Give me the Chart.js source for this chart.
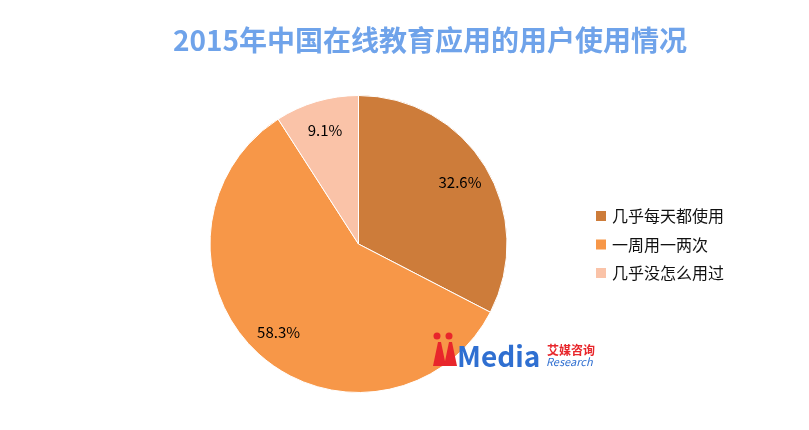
<!DOCTYPE html>
<html>
<head>
<meta charset="utf-8">
<script src="https://cdn.jsdelivr.net/npm/chart.js@4"></script>
<style>
  html, body { margin: 0; padding: 0; background: #fff; }
  #wrap { width: 809px; height: 430px; position: relative; }
</style>
</head>
<body>
<div id="wrap"><canvas id="usage_pie"></canvas></div>
<script>
/* global Chart */

const title = "2015年中国在线教育应用的用户使用情况";
const categories = ["几乎每天都使用", "一周用一两次", "几乎没怎么用过"];
const shares = [32.6, 58.3, 9.1];
const colors = ["#CD7C3A", "#F79748", "#FAC3A8"];

const FONT = '"Microsoft YaHei", "Noto Sans CJK SC", sans-serif';

const usage_pie = document.getElementById("usage_pie");

// title, slice labels, legend and the logo are drawn here
const decorations = {
    id: "decorations",
    afterDatasetsDraw(chart) {
        const ctx = chart.ctx;
        ctx.save();

        // title
        ctx.fillStyle = "#6FA3EA";
        ctx.font = "bold 28px " + FONT;
        ctx.textAlign = "center";
        ctx.textBaseline = "middle";
        ctx.fillText(title, 430, 40);

        // value labels inside the slices
        const meta = chart.getDatasetMeta(0);
        ctx.fillStyle = "#000";
        ctx.font = "15px " + FONT;
        meta.data.forEach((arc, i) => {
            const mid = (arc.startAngle + arc.endAngle) / 2;
            const r = arc.outerRadius * 0.8;
            ctx.fillText(shares[i].toFixed(1) + "%", arc.x + Math.cos(mid) * r, arc.y + Math.sin(mid) * r);
        });

        // legend
        ctx.textAlign = "left";
        ctx.font = "16px " + FONT;
        categories.forEach((name, i) => {
            const y = 216 + i * 28.5;
            ctx.fillStyle = colors[i];
            ctx.fillRect(596, y - 5, 10, 10);
            ctx.fillStyle = "#111";
            ctx.fillText(name, 612, y);
        });

        // iiMedia logo
        ctx.fillStyle = "#E8262B";
        ctx.beginPath(); ctx.arc(437, 336, 3.5, 0, Math.PI * 2); ctx.fill();
        ctx.beginPath(); ctx.arc(449, 336, 3.5, 0, Math.PI * 2); ctx.fill();
        ctx.beginPath();
        ctx.moveTo(438, 342); ctx.lineTo(441, 342); ctx.lineTo(446, 366); ctx.lineTo(433, 366); ctx.closePath(); ctx.fill();
        ctx.beginPath();
        ctx.moveTo(449, 342); ctx.lineTo(452, 342); ctx.lineTo(457, 366); ctx.lineTo(444, 366); ctx.closePath(); ctx.fill();
        ctx.fillStyle = "#2F6FD1";
        ctx.font = "bold 28px " + FONT;
        ctx.textBaseline = "alphabetic";
        ctx.fillText("Media", 457, 367);
        ctx.fillStyle = "#E8262B";
        ctx.font = "bold 12px " + FONT;
        ctx.fillText("艾媒咨询", 547, 355);
        ctx.fillStyle = "#2F6FD1";
        ctx.font = "italic 11px " + FONT;
        ctx.fillText("Research", 546, 366);

        ctx.restore();
    },
};

new Chart(usage_pie, {
    type: "pie",
    data: {
        labels: categories,
        datasets: [
            {
                data: shares,
                backgroundColor: colors,
                borderColor: "#ffffff",
                borderWidth: 1,
            },
        ],
    },
    options: {
        responsive: true,
        maintainAspectRatio: false,
        animation: false,
        layout: {
            padding: { top: 95, bottom: 37, left: 209, right: 301 },
        },
        plugins: {
            legend: { display: false },
            title: { display: false },
            tooltip: { enabled: false },
        },
    },
    plugins: [decorations],
});
</script>
</body>
</html>
